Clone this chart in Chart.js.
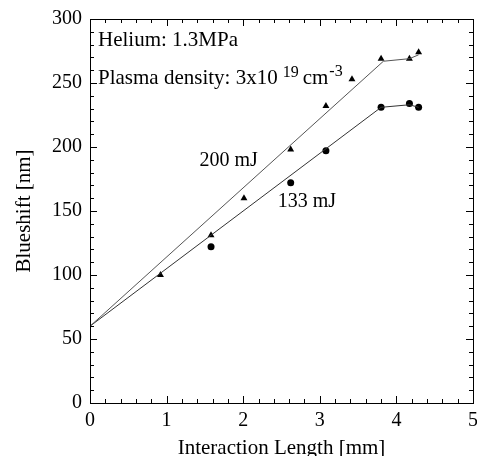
<!DOCTYPE html>
<html>
<head>
<meta charset="utf-8">
<script src="https://cdn.jsdelivr.net/npm/chart.js@4"></script>
<style>
  html, body { margin: 0; padding: 0; background: #fff; overflow: hidden; }
  #wrap { width: 477px; height: 456px; position: relative; }
</style>
</head>
<body>
<div id="wrap"><canvas id="chart"></canvas></div>
<script>
const len200 = [0.92, 1.58, 2.01, 2.62, 3.08, 3.42, 3.80, 4.17, 4.29];
const shift200 = [100, 131, 160, 198, 232, 253, 269, 269, 274];
const len133 = [1.58, 2.62, 3.08, 3.80, 4.17, 4.29];
const shift133 = [122, 172, 197, 231, 234, 231];

// guide lines drawn through the points
const fitLen200 = [0, 3.83, 4.17, 4.29];
const fitShift200 = [60, 267, 269, 272];
const fitLen133 = [0, 3.80, 4.17, 4.29];
const fitShift133 = [60, 231, 233, 231];

const xTicks = [0, 1, 2, 3, 4, 5];
const yTicks = [0, 50, 100, 150, 200, 250, 300];

function pts(xs, ys) {
    return xs.map((x, i) => ({ x: x, y: ys[i] }));
}

const serif = '"Liberation Serif", "DejaVu Serif", serif';

// frame, inward ticks, tick labels and text annotations
const framePlugin = {
    id: 'frame',
    afterDraw(chart) {
        const ctx = chart.ctx;
        const a = chart.chartArea;
        const xs = chart.scales.x;
        const ys = chart.scales.y;
        ctx.save();
        ctx.strokeStyle = '#000';
        ctx.lineWidth = 1;
        ctx.strokeRect(a.left + 0.5, a.top + 0.5, a.right - a.left, a.bottom - a.top);

        ctx.beginPath();
        for (let v = 0; v <= 5.001; v += 0.2) {
            const major = Math.abs(v - Math.round(v)) < 0.01;
            const len = major ? 7 : 4;
            const px = Math.round(xs.getPixelForValue(v)) + 0.5;
            ctx.moveTo(px, a.bottom); ctx.lineTo(px, a.bottom - len);
            ctx.moveTo(px, a.top); ctx.lineTo(px, a.top + len);
        }
        for (let v = 0; v <= 300; v += 10) {
            const major = v % 50 === 0;
            const len = major ? 7 : 4;
            const py = Math.round(ys.getPixelForValue(v)) + 0.5;
            ctx.moveTo(a.left, py); ctx.lineTo(a.left + len, py);
            ctx.moveTo(a.right, py); ctx.lineTo(a.right - len, py);
        }
        ctx.stroke();

        ctx.fillStyle = '#000';
        ctx.font = '20px ' + serif;
        ctx.textAlign = 'center';
        ctx.textBaseline = 'top';
        xTicks.forEach(v => {
            ctx.fillText(String(v), xs.getPixelForValue(v), a.bottom + 8);
        });
        ctx.textAlign = 'right';
        ctx.textBaseline = 'middle';
        yTicks.forEach(v => {
            ctx.fillText(String(v), a.left - 8, ys.getPixelForValue(v));
        });

        ctx.font = '21px ' + serif;
        ctx.textAlign = 'center';
        ctx.textBaseline = 'middle';
        ctx.fillText('Interaction Length [mm]', (a.left + a.right) / 2, 448);
        ctx.save();
        ctx.translate(24, (a.top + a.bottom) / 2);
        ctx.rotate(-Math.PI / 2);
        ctx.fillText('Blueshift [nm]', 0, 0);
        ctx.restore();

        ctx.textAlign = 'left';
        ctx.textBaseline = 'alphabetic';
        ctx.font = '21px ' + serif;
        ctx.fillText('Helium: 1.3MPa', a.left + 8, 46);
        let x = a.left + 8;
        ctx.fillText('Plasma density: 3x10', x, 84);
        x += ctx.measureText('Plasma density: 3x10').width + 5;
        ctx.font = '16px ' + serif;
        ctx.fillText('19', x, 77);
        x += ctx.measureText('19').width + 4;
        ctx.font = '21px ' + serif;
        ctx.fillText('cm', x, 84);
        x += ctx.measureText('cm').width + 1;
        ctx.font = '16px ' + serif;
        ctx.fillText('-3', x, 76);

        ctx.font = '20px ' + serif;
        ctx.textBaseline = 'middle';
        ctx.fillText('200 mJ', xs.getPixelForValue(1.43), ys.getPixelForValue(189));
        ctx.fillText('133 mJ', xs.getPixelForValue(2.45), ys.getPixelForValue(157));
        ctx.restore();
    }
};

const ctx = document.getElementById('chart').getContext('2d');
new Chart(ctx, {
    type: 'scatter',
    data: {
        datasets: [
            {
                label: 'fit 200 mJ',
                data: pts(fitLen200, fitShift200),
                showLine: true,
                borderColor: '#555',
                borderWidth: 1,
                pointRadius: 0
            },
            {
                label: 'fit 133 mJ',
                data: pts(fitLen133, fitShift133),
                showLine: true,
                borderColor: '#333',
                borderWidth: 1,
                pointRadius: 0
            },
            {
                label: '200 mJ',
                data: pts(len200, shift200),
                pointStyle: 'triangle',
                pointRadius: 4,
                backgroundColor: '#000',
                borderColor: '#000',
                borderWidth: 0
            },
            {
                label: '133 mJ',
                data: pts(len133, shift133),
                pointStyle: 'circle',
                pointRadius: 3.5,
                backgroundColor: '#000',
                borderColor: '#000',
                borderWidth: 0
            }
        ]
    },
    options: {
        responsive: true,
        maintainAspectRatio: false,
        animation: false,
        layout: { padding: { left: 90, top: 19, right: 2, bottom: 53 } },
        plugins: { legend: { display: false }, tooltip: { enabled: false } },
        scales: {
            x: { type: 'linear', min: 0, max: 5, display: false },
            y: { type: 'linear', min: 0, max: 300, display: false }
        }
    },
    plugins: [framePlugin]
});
</script>
</body>
</html>
